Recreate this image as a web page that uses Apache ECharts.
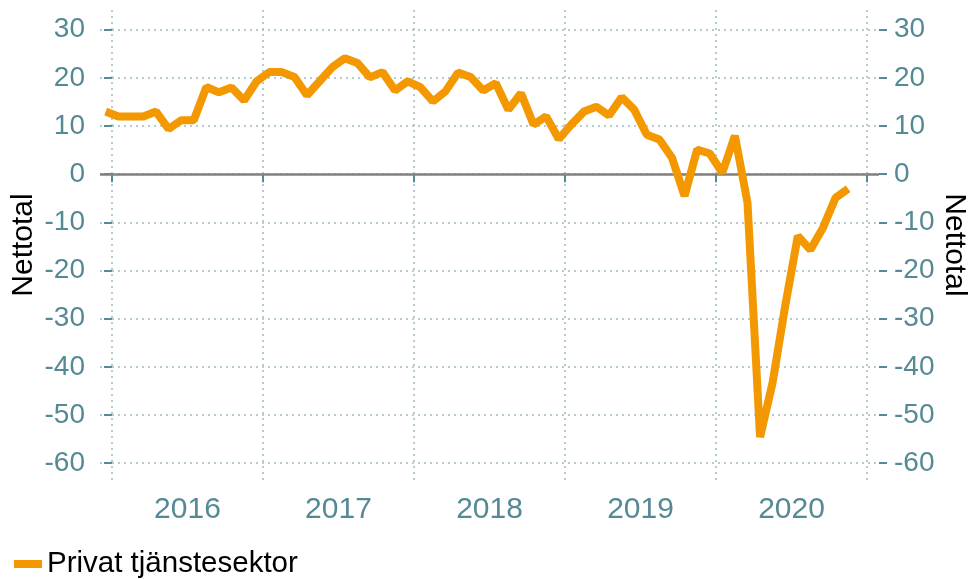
<!DOCTYPE html>
<html>
<head>
<meta charset="utf-8">
<script src="https://cdn.jsdelivr.net/npm/echarts@6/dist/echarts.min.js"></script>
<style>
  html, body { margin: 0; padding: 0; background: #fff; }
  #chart { width: 968px; height: 579px; }
</style>
</head>
<body>
<div id="chart"></div>
<script>
// monthly net balance, Dec 2015 .. Nov 2020
var months = [
  "2015-12",
  "2016-01", "2016-02", "2016-03", "2016-04", "2016-05", "2016-06",
  "2016-07", "2016-08", "2016-09", "2016-10", "2016-11", "2016-12",
  "2017-01", "2017-02", "2017-03", "2017-04", "2017-05", "2017-06",
  "2017-07", "2017-08", "2017-09", "2017-10", "2017-11", "2017-12",
  "2018-01", "2018-02", "2018-03", "2018-04", "2018-05", "2018-06",
  "2018-07", "2018-08", "2018-09", "2018-10", "2018-11", "2018-12",
  "2019-01", "2019-02", "2019-03", "2019-04", "2019-05", "2019-06",
  "2019-07", "2019-08", "2019-09", "2019-10", "2019-11", "2019-12",
  "2020-01", "2020-02", "2020-03", "2020-04", "2020-05", "2020-06",
  "2020-07", "2020-08", "2020-09", "2020-10", "2020-11"
];
var privatTjanst = [
  13,
  12, 12, 12, 13, 9.4, 11.2, 11.2, 18.1, 17, 18, 15.3, 19.3,
  21.2, 21.2, 20.2, 16.4, 19.3, 22.2, 24.1, 23.1, 20.1, 21.2, 17.4, 19.3,
  18.1, 15.1, 17.2, 21.1, 20.2, 17.4, 18.9, 13.4, 16.8, 10.3, 12.0, 7.3,
  10.3, 13.0, 14.0, 12.2, 16.0, 13.4, 8.2, 7.2, 3.4, -4.5, 5.1, 4.3,
  0.3, 8.0, -5.9, -54.6, -43.2, -27.3, -12.8, -15.7, -11.1, -4.9, -3.0
];
var years = ["2016", "2017", "2018", "2019", "2020"];
var yTicks = [-60, -50, -40, -30, -20, -10, 0, 10, 20, 30];
var seriesName = "Privat tjänstesektor";
var axisName = "Nettotal";

var teal = "#558a95";
var dotted = "#9bbbc2";
var font = "Liberation Sans";

// x axis in months from Jan 2016, points placed mid-month
function monthPos(m) {
  var p = m.split("-");
  return (parseInt(p[0], 10) - 2016) * 12 + parseInt(p[1], 10) - 1 + 0.5;
}
var lineData = months.map(function (m, i) {
  return [monthPos(m), privatTjanst[i]];
});
var yearTicks = [];
var yearLabelPos = [];
for (var k = 0; k <= years.length; k++) {
  yearTicks.push(k * 12);
  if (k < years.length) yearLabelPos.push(k * 12 + 6);
}

function yAxisCfg(pos) {
  return {
    type: "value",
    position: pos,
    min: -63.5,
    max: 34.1,
    name: axisName,
    nameLocation: "middle",
    nameGap: pos === "left" ? 61 : 60,
    nameMoveOverlap: false,
    nameRotate: pos === "left" ? 90 : -90,
    nameTextStyle: { color: "#000", fontSize: 30, fontFamily: font },
    axisLine: { show: false },
    axisTick: {
      show: true,
      length: 8,
      customValues: yTicks,
      lineStyle: { color: teal, width: 2 }
    },
    axisLabel: {
      customValues: yTicks,
      margin: 15,
      color: teal,
      fontSize: 28,
      fontFamily: font
    },
    splitLine: {
      show: pos === "left",
      lineStyle: { color: dotted, type: [2, 4], width: 1.5 }
    }
  };
}

var chart = echarts.init(document.getElementById("chart"));
chart.setOption({
  animation: false,
  grid: { left: 100, right: 89, top: 10, bottom: 99, outerBoundsMode: "none", containLabel: false },
  legend: {
    data: [seriesName],
    left: 14,
    top: 549,
    padding: 0,
    icon: "rect",
    itemWidth: 28,
    itemHeight: 8,
    textStyle: { color: "#000", fontSize: 29.5, lineHeight: 30, fontFamily: font }
  },
  xAxis: {
    type: "value",
    min: -0.95,
    max: 60.95,
    axisLine: { show: false },
    axisTick: {
      show: true,
      length: 8,
      customValues: yearTicks,
      lineStyle: { color: teal, width: 2 }
    },
    axisLabel: {
      customValues: yearLabelPos,
      margin: 15,
      color: teal,
      fontSize: 30,
      fontFamily: font,
      formatter: function (v) { return years[Math.round((v - 6) / 12)]; }
    },
    splitLine: {
      show: true,
      lineStyle: { color: dotted, type: [2, 4], width: 1.5 }
    }
  },
  yAxis: [yAxisCfg("left"), yAxisCfg("right")],
  series: [{
    name: seriesName,
    type: "line",
    data: lineData,
    showSymbol: false,
    symbol: "none",
    color: "#f39800",
    lineStyle: { width: 8, color: "#f39800", join: "bevel" },
    z: 3,
    markLine: {
      silent: true,
      symbol: "none",
      label: { show: false },
      lineStyle: { color: "#808080", type: "solid", width: 2.5 },
      data: [{ yAxis: 0 }],
      z: 1
    }
  }]
});
</script>
</body>
</html>
